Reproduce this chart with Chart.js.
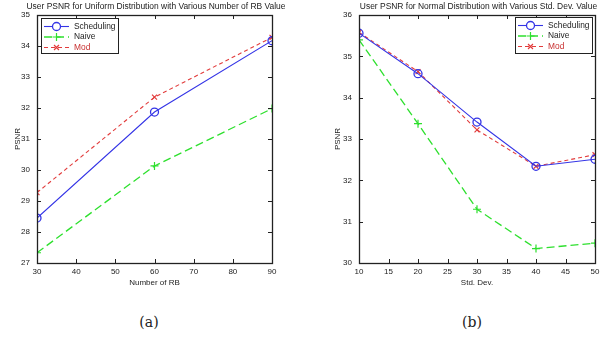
<!DOCTYPE html>
<html>
<head>
<meta charset="utf-8">
<script src="https://cdn.jsdelivr.net/npm/chart.js@4.4.1/dist/chart.umd.min.js"></script>
<style>
  body { margin: 0; background: #fff; }
  #wrap { position: relative; width: 604px; height: 337px; overflow: hidden; }
  .box { position: absolute; top: 0; height: 300px; }
  .cap { position: absolute; top: 314px; width: 40px; text-align: center;
         font: 14px "DejaVu Serif", serif; color: #222; }
</style>
</head>
<body>
<div id="wrap">
  <div class="box" style="left:0;width:300px"><canvas id="chartUniform"></canvas></div>
  <div class="box" style="left:300px;width:304px"><canvas id="chartNormal"></canvas></div>
  <div class="cap" style="left:129px">(a)</div>
  <div class="cap" style="left:452px">(b)</div>
</div>
<script>
// (a) uniform distribution, x = number of RB
const rbCounts = [30, 60, 90];
const uniScheduling = [28.45, 31.87, 34.17];
const uniNaive = [27.33, 30.13, 31.98];
const uniMod = [29.27, 32.35, 34.28];
const uniXTicks = [30, 40, 50, 60, 70, 80, 90];
const uniYTicks = [27, 28, 29, 30, 31, 32, 33, 34, 35];

// (b) normal distribution, x = std. dev.
const stdDevs = [10, 20, 30, 40, 50];
const normScheduling = [35.56, 34.58, 33.41, 32.34, 32.51];
const normNaive = [35.40, 33.37, 31.30, 30.35, 30.48];
const normMod = [35.58, 34.63, 33.22, 32.34, 32.62];
const normXTicks = [10, 15, 20, 25, 30, 35, 40, 45, 50];
const normYTicks = [30, 31, 32, 33, 34, 35, 36];

const seriesNames = ["Scheduling", "Naive", "Mod"];

const BLUE = "#3434e6";
const GREEN = "#2ee02e";
const RED = "#e23c3c";
const FONT = "'Liberation Sans', Arial, sans-serif";

function toPoints(xs, ys) {
  return xs.map((x, i) => ({ x: x, y: ys[i] }));
}

function makeDatasets(xs, sched, naive, mod) {
  return [
    {
      label: seriesNames[0], data: toPoints(xs, sched),
      borderColor: BLUE, backgroundColor: "rgba(0,0,0,0)", borderWidth: 1.1,
      pointStyle: "circle", pointRadius: 4, pointBorderColor: BLUE, pointBorderWidth: 1.3,
    },
    {
      label: seriesNames[1], data: toPoints(xs, naive),
      borderColor: GREEN, backgroundColor: "rgba(0,0,0,0)", borderWidth: 1.3,
      borderDash: [8, 4],
      pointStyle: "cross", pointRadius: 4, pointBorderColor: GREEN, pointBorderWidth: 1.2,
    },
    {
      label: seriesNames[2], data: toPoints(xs, mod),
      borderColor: RED, backgroundColor: "rgba(0,0,0,0)", borderWidth: 1.1,
      borderDash: [4, 3],
      pointStyle: "crossRot", pointRadius: 3.5, pointBorderColor: RED, pointBorderWidth: 1.2,
    },
  ];
}

// frame + inward ticks on every side, like a matlab axes box, plus the title
const matlabBox = {
  id: "matlabBox",
  afterDatasetsDraw(chart, args, opts) {
    const { ctx, chartArea: a, scales } = chart;
    const len = 4;
    ctx.save();
    ctx.strokeStyle = "#222";
    ctx.lineWidth = 1;
    ctx.beginPath();
    scales.x.ticks.forEach(t => {
      const px = Math.round(scales.x.getPixelForValue(t.value)) + 0.5;
      ctx.moveTo(px, a.bottom); ctx.lineTo(px, a.bottom - len);
      ctx.moveTo(px, a.top); ctx.lineTo(px, a.top + len);
    });
    scales.y.ticks.forEach(t => {
      const py = Math.round(scales.y.getPixelForValue(t.value)) + 0.5;
      ctx.moveTo(a.left, py); ctx.lineTo(a.left + len, py);
      ctx.moveTo(a.right, py); ctx.lineTo(a.right - len, py);
    });
    ctx.stroke();
    ctx.lineWidth = 1.3;
    ctx.strokeRect(Math.round(a.left) + 0.5, Math.round(a.top) + 0.5,
      Math.round(a.right - a.left), Math.round(a.bottom - a.top));
    // title centred over the axes, allowed to run past them
    ctx.fillStyle = "#222";
    ctx.font = "8.45px " + FONT;
    ctx.textAlign = "center";
    ctx.textBaseline = "middle";
    ctx.fillText(opts.title, (a.left + a.right) / 2 + 1.5, 6.5);
    ctx.restore();
  },
};

// boxed legend inside the axes
const boxLegend = {
  id: "boxLegend",
  afterDraw(chart, args, opts) {
    const ctx = chart.ctx;
    const b = opts.box;
    ctx.save();
    ctx.fillStyle = "#fff";
    ctx.fillRect(b.x, b.y, b.w, b.h);
    ctx.strokeStyle = "#222";
    ctx.lineWidth = 1;
    ctx.strokeRect(b.x + 0.5, b.y + 0.5, b.w, b.h);
    ctx.font = "8.4px " + FONT;
    ctx.textBaseline = "middle";
    chart.data.datasets.forEach((ds, i) => {
      const y = b.y + 8.5 + i * 10.5;
      const x0 = b.x + 3, x1 = b.x + 28;
      ctx.strokeStyle = ds.borderColor;
      ctx.lineWidth = ds.borderWidth;
      ctx.setLineDash(ds.borderDash || []);
      ctx.beginPath();
      ctx.moveTo(x0, y); ctx.lineTo(x1, y);
      ctx.stroke();
      ctx.setLineDash([]);
      ctx.lineWidth = ds.pointBorderWidth;
      Chart.helpers.drawPoint(ctx, { pointStyle: ds.pointStyle, radius: ds.pointRadius, rotation: 0, borderWidth: ds.pointBorderWidth }, (x0 + x1) / 2, y);
      ctx.fillStyle = i === 2 ? "#c83030" : "#222";
      ctx.fillText(ds.label, b.x + 33, y);
    });
    ctx.restore();
  },
};

function axisOptions(ticks, title, pad, fitSize, horizontal) {
  return {
    type: "linear",
    min: ticks[0],
    max: ticks[ticks.length - 1],
    grid: { display: false, drawTicks: false },
    border: { display: false },
    afterBuildTicks: s => { s.ticks = ticks.map(v => ({ value: v })); },
    afterFit: s => { if (horizontal) s.height = fitSize; else s.width = fitSize; },
    ticks: { padding: pad, color: "#222", font: { family: FONT, size: 8 }, maxRotation: 0, autoSkip: false },
    title: { display: true, text: title, color: "#222", font: { family: FONT, size: 8 }, padding: { top: 4, bottom: 4 } },
  };
}

function makeChart(id, titleText, datasets, xTicks, yTicks, xTitle, layout, yWidth, legendBox) {
  return new Chart(document.getElementById(id), {
    type: "line",
    data: { datasets: datasets },
    options: {
      responsive: true,
      maintainAspectRatio: false,
      animation: false,
      layout: { padding: layout },
      scales: {
        x: axisOptions(xTicks, xTitle, 4, 29, true),
        y: axisOptions(yTicks, "PSNR", 7, yWidth, false),
      },
      plugins: {
        legend: { display: false },
        tooltip: { enabled: false },
        matlabBox: { title: titleText },
        boxLegend: { box: legendBox },
      },
    },
    plugins: [matlabBox, boxLegend],
  });
}

document.addEventListener("DOMContentLoaded", function () {
  makeChart("chartUniform",
    "User PSNR for Uniform Distribution with Various Number of RB Value",
    makeDatasets(rbCounts, uniScheduling, uniNaive, uniMod),
    uniXTicks, uniYTicks, "Number of RB",
    { left: 9, right: 28, top: 15, bottom: 8 }, 28,
    { x: 41, y: 18, w: 77, h: 35 });

  makeChart("chartNormal",
    "User PSNR for Normal Distribution with Various Std. Dev. Value",
    makeDatasets(stdDevs, normScheduling, normNaive, normMod),
    normXTicks, normYTicks, "Std. Dev.",
    { left: 29, right: 9, top: 15, bottom: 8 }, 30,
    { x: 215, y: 17, w: 77, h: 36 });
});
</script>
</body>
</html>
